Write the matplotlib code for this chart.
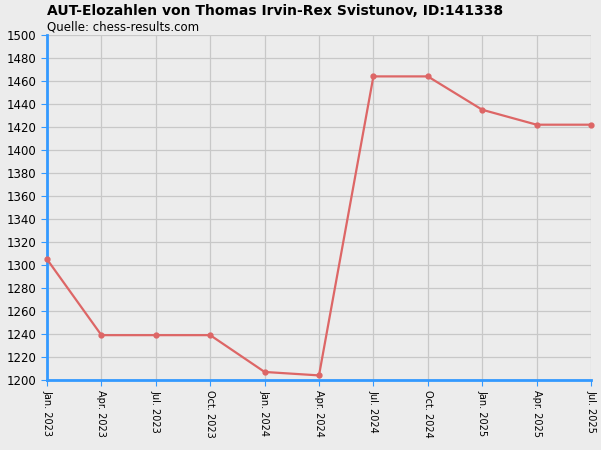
import matplotlib
matplotlib.use("Agg")
import matplotlib.pyplot as plt

# Datum und Elozahl
labels = ["Jan. 2023", "Apr. 2023", "Jul. 2023", "Oct. 2023", "Jan. 2024", "Apr. 2024",
          "Jul. 2024", "Oct. 2024", "Jan. 2025", "Apr. 2025", "Jul. 2025"]
elo = [1305, 1239, 1239, 1239, 1207, 1204, 1464, 1464, 1435, 1422, 1422]
yticks = list(range(1200, 1501, 20))

fig = plt.figure(figsize=(6.01, 4.5), dpi=100, facecolor="#ececec")
ax = fig.add_axes([47/601, 70/450, 544/601, 345/450], facecolor="#ececec")

x = list(range(len(labels)))
ax.plot(x, elo, color="#dd6666", lw=1.6, marker="o", ms=3.5, zorder=3, clip_on=False)

ax.set_xlim(0, len(labels) - 1)
ax.set_ylim(1200, 1500)
ax.set_xticks(x)
ax.set_xticklabels(labels, rotation=270, fontsize=7)
ax.set_yticks(yticks)
ax.tick_params(axis="y", labelsize=8.5, color="#3399ff", length=4)
ax.tick_params(axis="x", color="#3399ff", length=4)
ax.grid(True, color="#c8c8c8", lw=0.9)
for s in ["top", "right"]:
    ax.spines[s].set_visible(False)
for s in ["left", "bottom"]:
    ax.spines[s].set_color("#3399ff")
    ax.spines[s].set_linewidth(2)

fig.text(47/601, 1 - 11/450, "AUT-Elozahlen von Thomas Irvin-Rex Svistunov, ID:141338",
         fontsize=10, fontweight="bold", va="center")
fig.text(47/601, 1 - 27/450, "Quelle: chess-results.com", fontsize=8.5, va="center")

fig.savefig("out.png", dpi=100, facecolor=fig.get_facecolor())
